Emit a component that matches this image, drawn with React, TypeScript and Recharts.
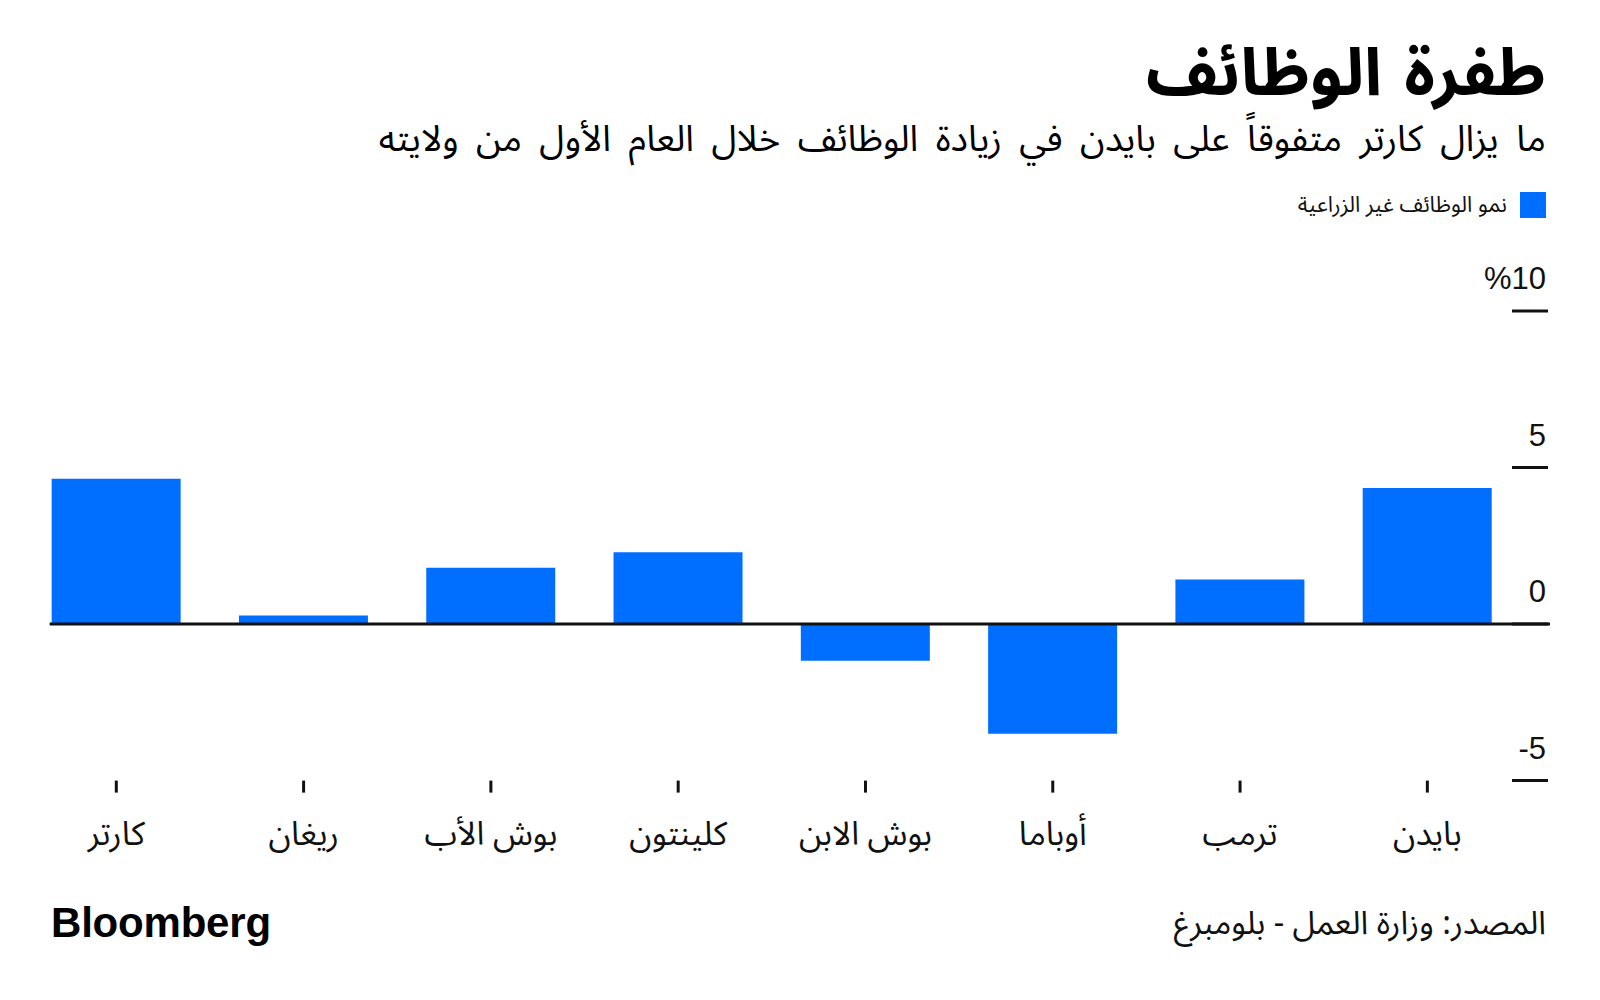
import React from 'react';
import { BarChart, Bar, XAxis, YAxis, ReferenceLine } from 'recharts';

// presidents, left to right as drawn
const presidents = ['كارتر', 'ريغان', 'بوش الأب', 'كلينتون', 'بوش الابن', 'أوباما', 'ترمب', 'بايدن'];
// nonfarm payroll growth in first year, %
const jobGrowth = [4.64, 0.27, 1.8, 2.29, -1.17, -3.5, 1.42, 4.35];
const yTicks = [-5, 0, 5, 10];
const yTickLabels = ['-5', '0', '5', '%10'];

const data = presidents.map((name, i) => ({ name, value: jobGrowth[i] }));

const BLUE = '#006eff';
const AR = "'Noto Sans Arabic', 'DejaVu Sans', sans-serif";
const LAT = "'Liberation Sans', Arial, sans-serif";
const BAR = 129;
const BAND_PAD = 29; // space between band edge and bar edge
const TICK_EXT = 27; // y tick dash sticks past the plot

const YTick = (props: any) => {
  const { x, y, payload } = props;
  const idx = yTicks.indexOf(payload.value);
  return (
    <g>
      <line x1={x - 9} x2={x + TICK_EXT} y1={y} y2={y} stroke="#111" strokeWidth={3} />
      <text x={x + 25} y={y - 22} textAnchor="end" fontFamily={LAT} fontSize={31} fill="#111">
        {yTickLabels[idx]}
      </text>
    </g>
  );
};

const XTick = (props: any) => {
  const { x, y, payload } = props;
  return (
    <text x={x} y={y + 52} textAnchor="middle" fontFamily={AR} fontSize={33} fill="#111" direction="rtl">
      {payload.value}
    </text>
  );
};

const ZeroLine = (props: any) => (
  <line
    x1={props.x1 + BAND_PAD}
    x2={props.x2 + TICK_EXT}
    y1={props.y1}
    y2={props.y2}
    stroke="#111"
    strokeWidth={3}
  />
);

export default function App() {
  return (
    <div style={{ position: 'absolute', left: 0, top: 0, width: 1600, height: 1000, background: '#fff', overflow: 'hidden' }}>
      <div style={{ position: 'absolute', right: 54, top: 4, direction: 'rtl', fontFamily: AR, fontWeight: 700, fontSize: 66, wordSpacing: 5, lineHeight: 'normal', color: '#000' }}>
        طفرة الوظائف
      </div>
      <div style={{ position: 'absolute', right: 54, top: 119, direction: 'rtl', fontFamily: AR, fontSize: 36.5, wordSpacing: 8, lineHeight: 1.15, color: '#000' }}>
        ما يزال كارتر متفوقاً على بايدن في زيادة الوظائف خلال العام الأول من ولايته
      </div>
      <div style={{ position: 'absolute', left: 1520, top: 192, width: 26, height: 26, background: BLUE }} />
      <div style={{ position: 'absolute', right: 93, top: 192, direction: 'rtl', fontFamily: AR, fontSize: 22, lineHeight: 1.2, color: '#111' }}>
        نمو الوظائف غير الزراعية
      </div>

      <div style={{ position: 'absolute', left: 0, top: 0 }}>
        <BarChart width={1600} height={1000} data={data} margin={{ top: 311, right: 19, bottom: 159.4, left: 22.65 }}>
          <XAxis
            dataKey="name"
            axisLine={false}
            tickLine={{ stroke: '#111', strokeWidth: 3 }}
            tickSize={12}
            tickMargin={0}
            height={60}
            interval={0}
            tick={<XTick />}
          />
          <YAxis
            orientation="right"
            domain={[-5, 10]}
            ticks={yTicks}
            axisLine={false}
            tickLine={false}
            tickSize={0}
            tickMargin={0}
            width={60}
            tick={<YTick />}
          />
          <Bar dataKey="value" fill={BLUE} barSize={BAR} isAnimationActive={false} />
          <ReferenceLine y={0} shape={<ZeroLine />} />
        </BarChart>
      </div>

      <div style={{ position: 'absolute', left: 51, top: 898, fontFamily: LAT, fontWeight: 700, fontSize: 42, lineHeight: 1.2, letterSpacing: -0.2, color: '#000' }}>
        Bloomberg
      </div>
      <div style={{ position: 'absolute', right: 54, top: 904, direction: 'rtl', fontFamily: AR, fontSize: 32.5, lineHeight: 1.2, color: '#111' }}>
        المصدر: وزارة العمل - بلومبرغ
      </div>
    </div>
  );
}
